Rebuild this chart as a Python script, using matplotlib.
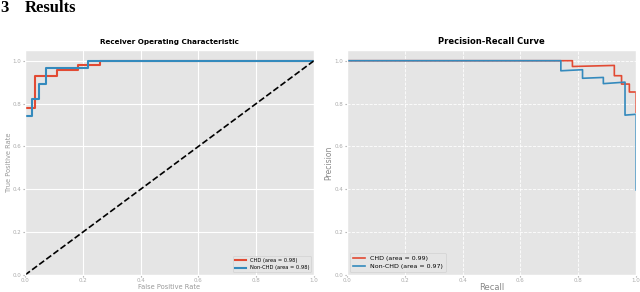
import matplotlib
matplotlib.use("Agg")
import matplotlib.pyplot as plt

plt.style.use("ggplot")

# ROC curves (step points)
roc_chd_fpr = [0.0, 0.035, 0.035, 0.11, 0.11, 0.183, 0.183, 0.258, 0.258, 1.0]
roc_chd_tpr = [0.78, 0.78, 0.93, 0.93, 0.955, 0.955, 0.978, 0.978, 1.0, 1.0]
roc_non_fpr = [0.0, 0.023, 0.023, 0.049, 0.049, 0.072, 0.072, 0.218, 0.218, 1.0]
roc_non_tpr = [0.743, 0.743, 0.82, 0.82, 0.89, 0.89, 0.966, 0.966, 1.0, 1.0]

# precision-recall curves
pr_chd_rec = [0.0, 0.78, 0.78, 0.925, 0.925, 0.95, 0.95, 0.977, 0.977, 1.0, 1.0]
pr_chd_prec = [1.0, 1.0, 0.973, 0.978, 0.930, 0.930, 0.891, 0.891, 0.854, 0.854, 0.76]
pr_non_rec = [0.0, 0.74, 0.74, 0.815, 0.815, 0.887, 0.887, 0.962, 0.962, 1.0, 1.0]
pr_non_prec = [1.0, 1.0, 0.953, 0.958, 0.918, 0.922, 0.893, 0.900, 0.746, 0.75, 0.397]

labels_roc = ["CHD (area = 0.98)", "Non-CHD (area = 0.98)"]
labels_pr = ["CHD (area = 0.99)", "Non-CHD (area = 0.97)"]
ticks = [0.0, 0.2, 0.4, 0.6, 0.8, 1.0]

red = "#E24A33"
blue = "#348ABD"

fig = plt.figure(figsize=(6.4, 2.92), dpi=100)
fig.patch.set_facecolor("white")

fig.text(0.0, 1 - 12/292, "3", fontfamily="Liberation Serif", fontweight="bold", fontsize=12)
fig.text(25/640, 1 - 12/292, "Results", fontfamily="Liberation Serif", fontweight="bold", fontsize=12)

ax1 = fig.add_axes([25/640, 17/292, 289/640, 225/292])
ax1.plot(roc_chd_fpr, roc_chd_tpr, color=red, lw=1.5, label=labels_roc[0])
ax1.plot(roc_non_fpr, roc_non_tpr, color=blue, lw=1.5, label=labels_roc[1])
ax1.plot([0, 1], [0, 1], "k--", lw=1.2)
ax1.set_xlim(0, 1)
ax1.set_ylim(0, 1.05)
ax1.set_xticks(ticks)
ax1.set_yticks(ticks)
ax1.tick_params(labelsize=4, length=1.5, pad=1, colors="#aaaaaa")
ax1.set_xlabel("False Positive Rate", fontsize=4.8, color="#999999", labelpad=0.5)
ax1.set_ylabel("True Positive Rate", fontsize=4.8, color="#999999", labelpad=0.5)
ax1.set_title("Receiver Operating Characteristic", fontsize=5.2, fontweight="bold", pad=4)
leg1 = ax1.legend(loc="lower right", fontsize=3.7)
leg1.get_frame().set_edgecolor("#cccccc")

ax2 = fig.add_axes([347/640, 17/292, 289/640, 225/292])
ax2.plot(pr_chd_rec, pr_chd_prec, color=red, lw=1.2, label=labels_pr[0])
ax2.plot(pr_non_rec, pr_non_prec, color=blue, lw=1.2, label=labels_pr[1])
ax2.set_xlim(0, 1)
ax2.set_ylim(0, 1.05)
ax2.set_xticks(ticks)
ax2.set_yticks(ticks)
ax2.grid(True, linestyle="--", linewidth=0.6)
ax2.tick_params(labelsize=4, length=1.5, pad=1, colors="#aaaaaa")
ax2.set_xlabel("Recall", fontsize=6, color="#888888", labelpad=0)
ax2.set_ylabel("Precision", fontsize=5.5, color="#888888", labelpad=1)
ax2.set_title("Precision-Recall Curve", fontsize=6, fontweight="bold", pad=4)
leg2 = ax2.legend(loc="lower left", fontsize=4.5)
leg2.get_frame().set_edgecolor("#cccccc")

fig.savefig("out.png", dpi=100)
